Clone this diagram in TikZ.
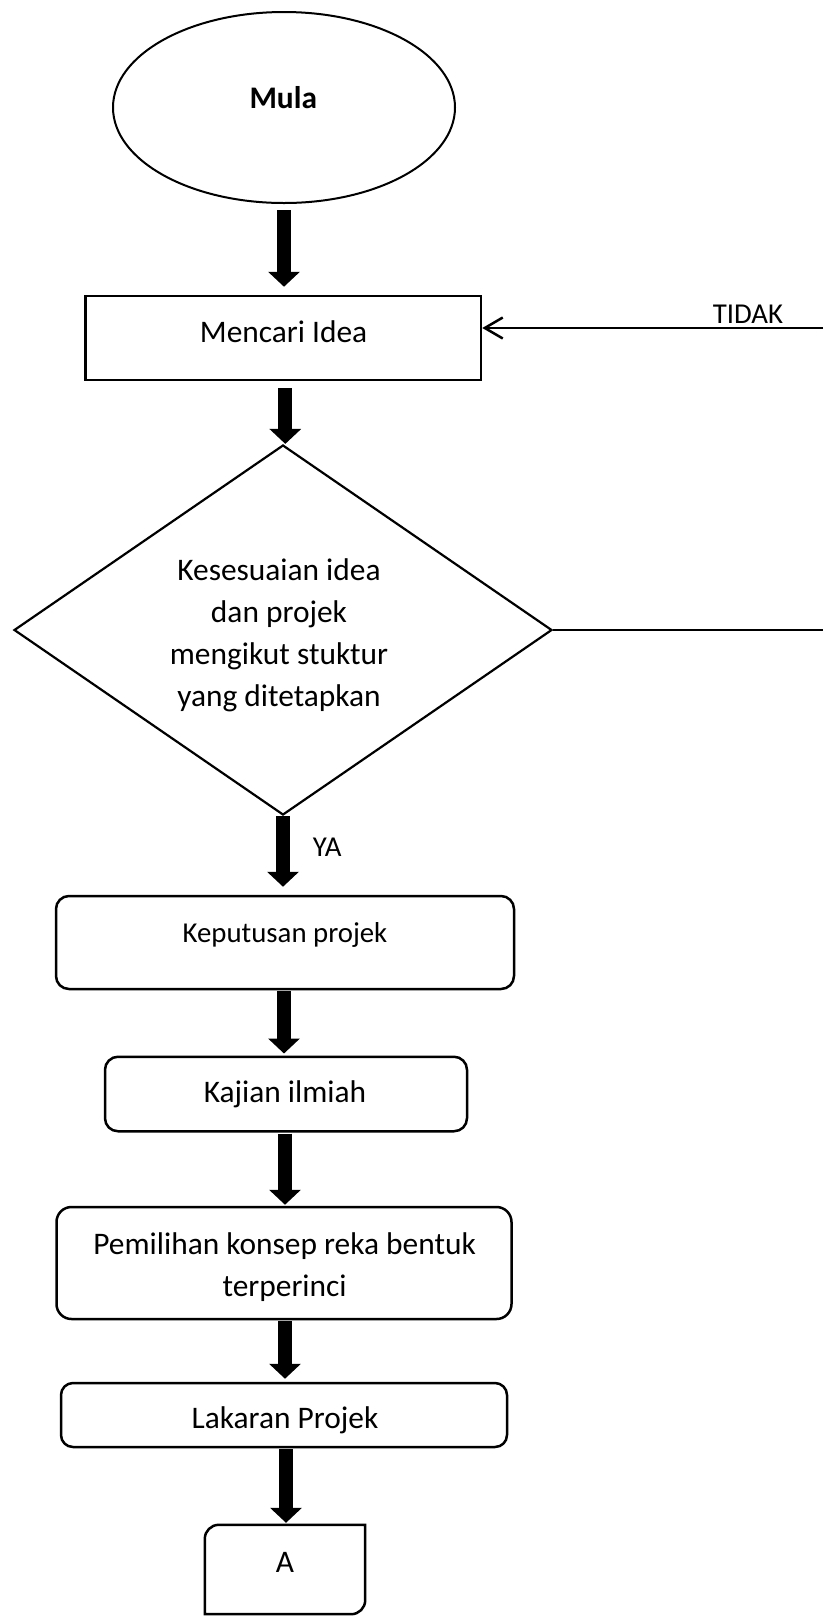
\documentclass[tikz,border=0pt]{standalone}
\usepackage{fontspec}
\setmainfont{Carlito}
\usetikzlibrary{shapes.geometric,arrows.meta}
\begin{document}
\begin{tikzpicture}[x=1pt,y=-1pt,
  box/.style={draw, line width=2.5pt, inner sep=0pt},
  rbox/.style={box, rounded corners=13pt},
  txt/.style={inner sep=0pt, font=\fontsize{31.4}{42}\selectfont},
  stxt/.style={inner sep=0pt, font=\fontsize{28.8}{35}\selectfont},
  bigarrow/.style={line width=14pt, -{Triangle[length=15pt 0 0, width=31pt 0 0]}},
]
\useasboundingbox (0,0) rectangle (823,1618);

% shapes
\node[draw, ellipse, line width=2pt, inner sep=0pt, minimum width=342pt, minimum height=191pt] (mula) at (284,107.5) {};
\node[box, minimum width=395.5pt, minimum height=84pt] (idea) at (283.3,338) {};
\node[draw, diamond, line width=2.2pt, inner sep=0pt, minimum width=538pt, minimum height=370pt] (cek) at (283,630) {};
\node[rbox, minimum width=458pt, minimum height=93pt] (keputusan) at (285,942.5) {};
\node[rbox, minimum width=362pt, minimum height=74.5pt] (kajian) at (286,1094) {};
\node[rbox, rounded corners=15pt, minimum width=455pt, minimum height=112pt] (pemilihan) at (284,1263) {};
\node[rbox, rounded corners=12pt, minimum width=446pt, minimum height=64pt] (lakaran) at (284,1415) {};
\node[inner sep=0pt, minimum width=160pt, minimum height=89pt] (A) at (285,1569.5) {};
\draw[line width=2.5pt] (A.south west) -- ([yshift=-14pt]A.north west)
  arc[start angle=180, end angle=90, radius=14pt] -- (A.north east)
  -- ([yshift=14pt]A.south east) arc[start angle=0, end angle=-90, radius=14pt] -- cycle;

% texts
\node[txt, anchor=base, font=\fontsize{31.4}{42}\selectfont\bfseries] (mula-t) at (283.3,108) {Mula};
\node[txt, anchor=base] (idea-t) at (283.6,342) {Mencari Idea};
\node[txt, align=center, anchor=base] (cek-t) at (279,706) {Kesesuaian idea\\dan projek\\mengikut stuktur\\yang ditetapkan};
\node[stxt, anchor=base] (keputusan-t) at (285,942.5) {Keputusan projek};
\node[txt, anchor=base] (kajian-t) at (285,1102.5) {Kajian ilmiah};
\node[txt, align=center, anchor=base] (pemilihan-t) at (284.6,1296) {Pemilihan konsep reka bentuk\\terperinci};
\node[txt, anchor=base] (lakaran-t) at (285,1428.5) {Lakaran Projek};
\node[txt, anchor=base] (A-t) at (285,1572) {A};
\node[stxt, anchor=base] (tidak) at (748,323) {TIDAK};
\node[stxt, anchor=base west] (ya) at (312.7,856.5) {YA};

% thick arrows
\draw[bigarrow] ([yshift=-6pt]mula.south) -- ([yshift=8pt]mula.south |- idea.north);
\draw[bigarrow] ([yshift=-7pt,xshift=2pt]idea.south) -- ([xshift=2pt]idea.south |- cek.north);
\draw[bigarrow] (cek.south) -- ([yshift=8pt]cek.south |- keputusan.north);
\draw[bigarrow] ([yshift=-1pt,xshift=-1pt]keputusan.south) -- ([yshift=2pt,xshift=-1pt]keputusan.south |- kajian.north);
\draw[bigarrow] ([yshift=-1pt,xshift=-1pt]kajian.south) -- ([yshift=1pt,xshift=-1pt]kajian.south |- pemilihan.north);
\draw[bigarrow] ([yshift=-1pt,xshift=1pt]pemilihan.south) -- ([yshift=3pt,xshift=1pt]pemilihan.south |- lakaran.north);
\draw[bigarrow] ([yshift=-1pt,xshift=2pt]lakaran.south) -- ([yshift=2pt,xshift=2pt]lakaran.south |- A.north);

% TIDAK loop ends (cut at the edge)
\coordinate (tkR) at (823,328);
\coordinate (tkM) at (665,328);
\coordinate (tdR) at (823,630);
\draw[line width=1.3pt] (tkR) -- (tkM);
\draw[line width=2.5pt, -{Straight Barb[length=18pt 0 0, width=21pt 0 0]}] (tkM) -- (tkM -| idea.east);
\draw[line width=2pt] (cek.east) -- (tdR);
\end{tikzpicture}
\end{document}
